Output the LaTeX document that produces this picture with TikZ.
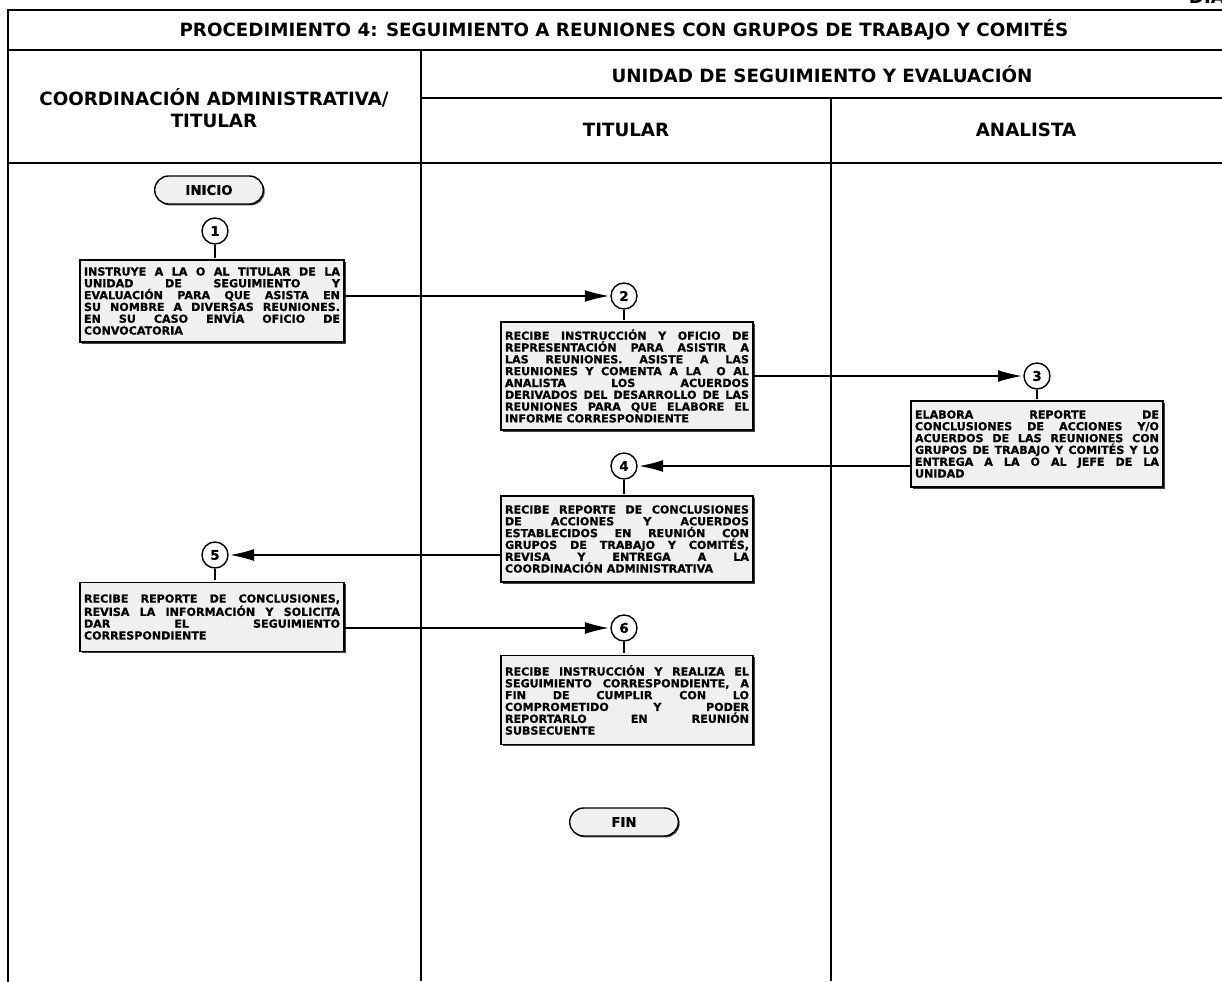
\documentclass[tikz,border=0pt]{standalone}
\usepackage{fontspec}
\setmainfont{DejaVu Sans}
\newfontfamily\taskfont{DejaVu Sans}[BoldFeatures={FakeBold=0.8}]
\usetikzlibrary{arrows.meta,shapes.misc,shadows}
\newcommand\boxtxt{\taskfont\fontsize{7.9}{8.4}\selectfont\bfseries}
\newcommand\headtxt{\fontsize{13}{15.5}\selectfont\bfseries}
\begin{document}
\begin{tikzpicture}[x=0.25mm,y=-0.25mm,shorten >=1pt]
	\tikzstyle{frame}=[draw=black,line width=0.45mm]
	\tikzstyle{head}=[font=\headtxt,align=center]
	\tikzstyle{task}=[rectangle,draw=black,line width=0.35mm,fill=black!6,inner xsep=1mm,align=justify,font=\boxtxt,text width=61mm,drop shadow={shadow xshift=0.4mm,shadow yshift=-0.4mm,fill=black!75,opacity=1}]
	\tikzstyle{term}=[rounded rectangle,draw=black,line width=0.35mm,fill=black!6,minimum width=29.5mm,minimum height=7mm,font=\taskfont\fontsize{9.5}{10}\selectfont\bfseries,drop shadow={shadow xshift=0.35mm,shadow yshift=-0.35mm,fill=black!75,opacity=1}]
	\tikzstyle{node}=[circle,draw=black,line width=0.35mm,fill=white,minimum size=6.5mm,inner sep=0pt,font=\taskfont\fontsize{9.5}{10}\selectfont\bfseries]
	\tikzstyle{edge}=[draw=black,line width=0.35mm]

	\useasboundingbox (0,0) rectangle (1222,982);

	\draw[frame] (8,982) -- (8,10) -- (1240,10);
	\draw[frame] (8,50) -- (1240,50);
	\draw[frame] (421,98) -- (1240,98);
	\draw[frame] (8,163) -- (1240,163);
	\draw[frame] (421,50) -- (421,982);
	\draw[frame] (831,98) -- (831,982);

	\node[head,anchor=south west] (diag) at (1184,9) {DIAG};
	\node[head] (title) at (624,30) {PROCEDIMIENTO 4: SEGUIMIENTO A REUNIONES CON GRUPOS DE TRABAJO Y COMITÉS};
	\node[head] (coord) at (214,108) {COORDINACIÓN ADMINISTRATIVA/\\TITULAR};
	\node[head] (unidad) at (822,74) {UNIDAD DE SEGUIMIENTO Y EVALUACIÓN};
	\node[head] (titular) at (626,130) {TITULAR};
	\node[head] (analista) at (1026,130) {ANALISTA};

	\node[term] (inicio) at (209,190) {INICIO};
	\node[node] (1) at (215,231) {1};
	\node[task,text width=64mm,minimum height=20.5mm] (b1) at (212,301) {INSTRUYE A LA O AL TITULAR DE LA\linebreak UNIDAD DE SEGUIMIENTO Y\linebreak EVALUACIÓN PARA QUE ASISTA EN\linebreak SU NOMBRE A DIVERSAS REUNIONES.\linebreak EN SU CASO ENVÍA OFICIO DE\linebreak CONVOCATORIA};
	\node[node] (2) at (624,296) {2};
	\node[task,minimum height=27mm] (b2) at (627,376) {RECIBE INSTRUCCIÓN Y OFICIO DE\linebreak REPRESENTACIÓN PARA ASISTIR A\linebreak LAS REUNIONES. ASISTE A LAS\linebreak REUNIONES Y COMENTA A LA~ O AL\linebreak ANALISTA LOS ACUERDOS\linebreak DERIVADOS DEL DESARROLLO DE LAS\linebreak REUNIONES PARA QUE ELABORE EL\linebreak INFORME CORRESPONDIENTE};
	\node[node] (3) at (1037,376) {3};
	\node[task,minimum height=21.5mm] (b3) at (1037,444) {ELABORA REPORTE DE\linebreak CONCLUSIONES DE ACCIONES Y/O\linebreak ACUERDOS DE LAS REUNIONES CON\linebreak GRUPOS DE TRABAJO Y COMITÉS Y LO\linebreak ENTREGA A LA O AL JEFE DE LA\linebreak UNIDAD};
	\node[node] (4) at (624,466) {4};
	\node[task,minimum height=21.5mm] (b4) at (627,539) {RECIBE REPORTE DE CONCLUSIONES\linebreak DE ACCIONES Y ACUERDOS\linebreak ESTABLECIDOS EN REUNIÓN CON\linebreak GRUPOS DE TRABAJO Y COMITÉS,\linebreak REVISA Y ENTREGA A LA\linebreak COORDINACIÓN ADMINISTRATIVA};
	\node[node] (5) at (215,555) {5};
	\node[task,text width=64mm,minimum height=17.25mm] (b5) at (212,617) {RECIBE REPORTE DE CONCLUSIONES,\linebreak REVISA LA INFORMACIÓN Y SOLICITA\linebreak DAR EL SEGUIMIENTO\linebreak CORRESPONDIENTE};
	\node[node] (6) at (624,628) {6};
	\node[task,minimum height=22.25mm] (b6) at (627,700) {RECIBE INSTRUCCIÓN Y REALIZA EL\linebreak SEGUIMIENTO CORRESPONDIENTE, A\linebreak FIN DE CUMPLIR CON LO\linebreak COMPROMETIDO Y PODER\linebreak REPORTARLO EN REUNIÓN\linebreak SUBSECUENTE};
	\node[term] (fin) at (624,822) {FIN};

	\path[edge] (1) -- (1 |- b1.north);
	\path[edge] (2) -- (2 |- b2.north);
	\path[edge] (3) -- (3 |- b3.north);
	\path[edge] (4) -- (4 |- b4.north);
	\path[edge] (5) -- (5 |- b5.north);
	\path[edge] (6) -- (6 |- b6.north);

	\path[edge,-{Latex[length=6mm,width=3mm]}] (b1.east |- 2) -- (2);
	\path[edge,-{Latex[length=6mm,width=3mm]}] (b2.east |- 3) -- (3);
	\path[edge,-{Latex[length=6mm,width=3mm]}] (b3.west |- 4) -- (4);
	\path[edge,-{Latex[length=6mm,width=3mm]}] (b4.west |- 5) -- (5);
	\path[edge,-{Latex[length=6mm,width=3mm]}] (b5.east |- 6) -- (6);

\end{tikzpicture}
\end{document}
